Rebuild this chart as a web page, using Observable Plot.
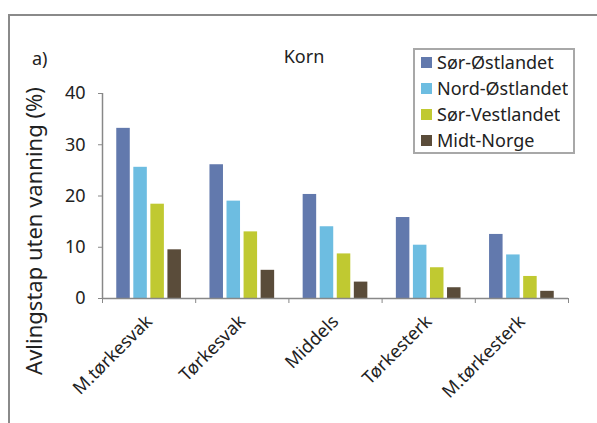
<!DOCTYPE html>
<html>
<head>
<meta charset="utf-8">
<script src="https://cdn.jsdelivr.net/npm/d3@7"></script>
<script src="https://cdn.jsdelivr.net/npm/@observablehq/plot@0.6"></script>
<style>
  body { margin: 0; background: #fff; font-family: "Noto Sans", sans-serif; }
  #wrap { position: relative; width: 597px; height: 423px; overflow: hidden; }
  #frame { position: absolute; left: 8px; top: 14px; right: -10px; bottom: -10px;
           border-left: 2px solid #8a8a8a; border-top: 2px solid #8a8a8a; }
  #chart { position: absolute; left: 0; top: 0; }
  .lbl { position: absolute; font-size: 18px; line-height: 18px; color: #222; white-space: nowrap; }
  #legend { position: absolute; left: 413px; top: 48px; width: 162px; height: 106px;
            border: 2px solid #a8a8a8; box-sizing: border-box; padding: 0 0 0 6px; background: #fff; }
  #legend > div { margin: 0 !important; font-family: "Noto Sans", sans-serif !important;
                  font-size: 18px !important; color: #222 !important; }
  #legend svg { margin-right: 5px !important; }
  #legend div div { line-height: 25px !important; }
</style>
</head>
<body>
<div id="wrap">
  <div id="frame"></div>
  <div id="chart"></div>
  <div class="lbl" id="panel" style="left:32px; top:49px;"></div>
  <div class="lbl" id="title" style="left:304px; top:47px; transform:translateX(-50%);"></div>
  <div id="legend"></div>
</div>
<script>
// ---- data ----
const panelLabel = "a)";
const chartTitle = "Korn";
const yLabel = "Avlingstap uten vanning (%)";
const categories = ["M.tørkesvak", "Tørkesvak", "Middels", "Tørkesterk", "M.tørkesterk"];
const seriesNames = ["Sør-Østlandet", "Nord-Østlandet", "Sør-Vestlandet", "Midt-Norge"];
const sorOstlandet  = [33.2, 26.1, 20.3, 15.8, 12.5];
const nordOstlandet = [25.6, 19.0, 14.0, 10.4, 8.5];
const sorVestlandet = [18.4, 13.0, 8.7, 6.0, 4.3];
const midtNorge     = [9.5, 5.5, 3.2, 2.1, 1.4];
const seriesColors = ["#6279ad", "#6dbde1", "#c0c931", "#5a4c3a"];
const yTicks = [0, 10, 20, 30, 40];

// ---- table ----
const seriesValues = [sorOstlandet, nordOstlandet, sorVestlandet, midtNorge];
const table = [];
categories.forEach((cat, ci) => {
  seriesNames.forEach((s, si) => {
    table.push({cat, ci, series: s, si, value: seriesValues[si][ci]});
  });
});

// group layout within each category band (fractions of a band)
const groupStart = 0.153, barStep = 0.183, barWidth = 0.145;

const plot = Plot.plot({
  width: 597,
  height: 423,
  marginLeft: 102,
  marginRight: 29,
  marginTop: 93,
  marginBottom: 125,
  style: {fontFamily: "Noto Sans", fontSize: "18px", color: "#222", background: "transparent"},
  x: {type: "linear", domain: [0, categories.length], axis: null},
  y: {domain: [0, 40], axis: null},
  color: {domain: seriesNames, range: seriesColors},
  marks: [
    Plot.rect(table, {
      x1: d => d.ci + groupStart + d.si * barStep,
      x2: d => d.ci + groupStart + d.si * barStep + barWidth,
      y1: 0,
      y2: "value",
      fill: "series"
    }),
    Plot.axisY(yTicks, {tickSize: 4, tickPadding: 13, fontSize: 18, stroke: "#888", fill: "#222", label: null}),
    Plot.axisX(d3.range(categories.length + 1), {tickSize: 5, tickFormat: () => "", stroke: "#888", label: null}),
    Plot.axisX(categories.map((c, i) => i + 0.5), {
      tickSize: 0, tickPadding: 20, tickRotate: -45, fontSize: 18, fill: "#222",
      tickFormat: v => categories[Math.floor(v)], label: null
    }),
    Plot.ruleX([0], {stroke: "#888", strokeWidth: 1.5}),
    Plot.ruleY([0], {stroke: "#888", strokeWidth: 1.5}),
    Plot.text([yLabel], {text: d => d, frameAnchor: "left", textAnchor: "middle", rotate: -90, dx: -68, dy: 35, fontSize: 22, fill: "#222"})
  ]
});
document.getElementById("chart").appendChild(plot);
document.getElementById("panel").textContent = panelLabel;
document.getElementById("title").textContent = chartTitle;
const lg = plot.legend("color", {legend: "swatches", columns: 1, swatchSize: 11,
  style: {fontFamily: "Noto Sans", fontSize: "18px", color: "#222"}});
document.getElementById("legend").appendChild(lg);
</script>
</body>
</html>
